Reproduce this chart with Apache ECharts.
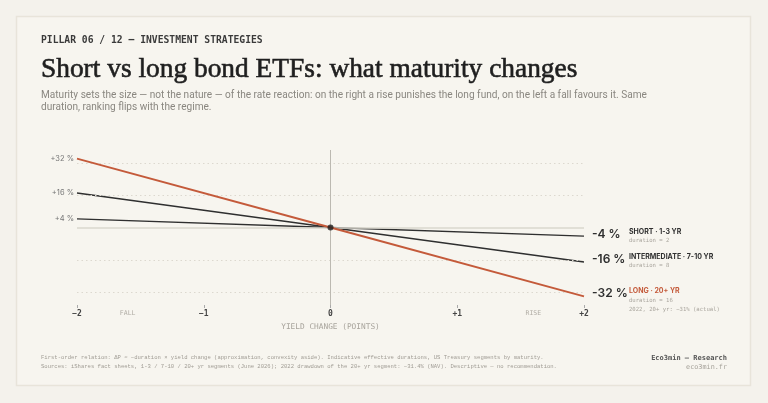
<!DOCTYPE html>
<html><head><meta charset="utf-8">
<script src="https://cdn.jsdelivr.net/npm/echarts@6/dist/echarts.min.js"></script>
<style>html,body{margin:0;padding:0;background:#f4f2ec}#c{width:768px;height:403px}</style>
</head><body><div id="c"></div>
<script>
const xValues = [-2, 0, 2];
const shortVals = [4, 0, -4];
const interVals = [16, 0, -16];
const longVals = [32, 0, -32];
const seriesNames = ['SHORT · 1-3 YR', 'INTERMEDIATE · 7-10 YR', 'LONG · 20+ YR'];
const durations = [2, 8, 16];
const longNote = '2022, 20+ yr: −31% (actual)';
const gridLevels = [-30, -15, 15, 30];
const regimeLabels = [{ name: 'FALL', x: -1.6 }, { name: 'RISE', x: 1.6 }];
const origin = [[0, 0]];

const MONO = '"DejaVu Sans Mono", "Liberation Mono", monospace';
const SANS = 'Inter, Roboto, "Noto Sans", sans-serif';
const DARK = '#2f2f2f';
const ORANGE = '#c45a3a';

const chart = echarts.init(document.getElementById('c'), null, { renderer: 'canvas' });

function fmtLeft(v) { return '+' + v + ' %'; }
function fmtRight(v) { return String(v) + ' %'; }

function makeSeries(idx, vals, color, width, valOffset, nameOffset, extraLine) {
  const data = xValues.map((x, i) => {
    const item = { value: [x, vals[i]] };
    if (i === 0) {
      item.label = { show: true, position: 'left', distance: 3, formatter: fmtLeft(vals[i]),
        color: '#777', fontFamily: SANS, fontSize: 7.5 };
    }
    if (i === xValues.length - 1) {
      item.label = { show: true, position: 'right', distance: 8, offset: valOffset,
        formatter: fmtRight(vals[i]), color: DARK, fontFamily: SANS, fontSize: 12, fontWeight: 600 };
    }
    return item;
  });
  let txt = '{n|' + seriesNames[idx] + '}\n{d|duration = ' + durations[idx] + '}';
  if (extraLine) txt += '\n{d|' + extraLine + '}';
  return {
    type: 'line', name: seriesNames[idx], data: data, z: 3 + idx,
    symbol: 'circle', symbolSize: 0, showSymbol: true,
    lineStyle: { color: color, width: width }, itemStyle: { color: color },
    silent: true, animation: false,
    markPoint: {
      symbol: 'circle', symbolSize: 0, silent: true, animation: false,
      data: [{ coord: [xValues[xValues.length - 1], vals[vals.length - 1]] }],
      label: {
        show: true, position: 'right', distance: 45, offset: nameOffset, align: 'left',
        formatter: txt,
        rich: {
          n: { color: color === ORANGE ? ORANGE : DARK, fontFamily: SANS, fontSize: 7, fontWeight: 'bold', lineHeight: 9 },
          d: { color: '#a9a59d', fontFamily: MONO, fontSize: 5.6, lineHeight: 9 }
        }
      }
    }
  };
}

const option = {
  backgroundColor: '#f4f2ec',
  animation: false,
  grid: { left: 77, right: 184, top: 150, bottom: 98 },
  xAxis: {
    type: 'value', min: -2, max: 2, interval: 1,
    axisLine: { show: false, onZero: false },
    axisTick: { show: true, length: 3, lineStyle: { color: '#aaa' } },
    splitLine: { show: false },
    axisLabel: {
      margin: 5, color: '#444', fontFamily: MONO, fontSize: 8, fontWeight: 'bold',
      formatter: v => v > 0 ? '+' + v : (v < 0 ? '−' + Math.abs(v) : '0')
    },
    name: 'YIELD CHANGE (POINTS)', nameLocation: 'middle', nameGap: 18,
    nameTextStyle: { color: '#a8a49c', fontFamily: MONO, fontSize: 7.8 }
  },
  yAxis: {
    type: 'value', min: -36, max: 36,
    axisLine: { show: false }, axisTick: { show: false }, axisLabel: { show: false },
    splitLine: { show: false }
  },
  graphic: [
    { type: 'rect', shape: { x: 16.5, y: 16.5, width: 734, height: 369 },
      style: { fill: '#f7f5ef', stroke: '#e8e4da', lineWidth: 1.5 }, z: -10 },
    { type: 'text', style: { text: 'PILLAR 06 / 12 — INVESTMENT STRATEGIES', x: 41, y: 40,
      fontFamily: MONO, fontSize: 9.7, fontWeight: 'bold', fill: '#3a3a3a', verticalAlign: 'middle' } },
    { type: 'text', style: { text: 'Short vs long bond ETFs: what maturity changes', x: 41, y: 70,
      fontFamily: '"Liberation Serif", serif', fontSize: 27.4, fontWeight: 'normal', fill: '#1f1f1f',
      stroke: '#1f1f1f', lineWidth: 0.6, verticalAlign: 'middle' } },
    { type: 'text', style: { text: 'Maturity sets the size — not the nature — of the rate reaction: on the right a rise punishes the long fund, on the left a fall favours it. Same', x: 41, y: 95,
      fontFamily: 'Roboto, sans-serif', fontSize: 10.1, fill: '#8a8780', verticalAlign: 'middle' } },
    { type: 'text', style: { text: 'duration, ranking flips with the regime.', x: 41, y: 107.5,
      fontFamily: 'Roboto, sans-serif', fontSize: 10.1, fill: '#8a8780', verticalAlign: 'middle' } },
    { type: 'text', style: { text: 'First-order relation: ΔP ≈ −duration × yield change (approximation, convexity aside). Indicative effective durations, US Treasury segments by maturity.', x: 41, y: 358,
      fontFamily: '"Liberation Mono", monospace', fontSize: 5.55, fill: '#a09c94', verticalAlign: 'middle' } },
    { type: 'text', style: { text: 'Sources: iShares fact sheets, 1-3 / 7-10 / 20+ yr segments (June 2026); 2022 drawdown of the 20+ yr segment: −31.4% (NAV). Descriptive — no recommendation.', x: 41, y: 367,
      fontFamily: '"Liberation Mono", monospace', fontSize: 5.55, fill: '#a09c94', verticalAlign: 'middle' } },
    { type: 'text', style: { text: 'Eco3min — Research', x: 727, y: 358, align: 'right',
      fontFamily: MONO, fontSize: 7, fontWeight: 'bold', fill: '#555', verticalAlign: 'middle' } },
    { type: 'text', style: { text: 'eco3min.fr', x: 727, y: 367, align: 'right',
      fontFamily: MONO, fontSize: 6.8, fill: '#a5a199', verticalAlign: 'middle' } }
  ],
  series: [
    {
      type: 'line', name: 'guides', data: [], z: 1, silent: true, animation: false,
      markLine: {
        symbol: 'none', silent: true, animation: false, label: { show: false },
        data: gridLevels.map(v => ({ yAxis: v, lineStyle: { color: '#dcd8cf', type: [1.5, 3], width: 1 } }))
          .concat([{ yAxis: 0, lineStyle: { color: '#dad7ce', type: 'solid', width: 1.5 } },
                   { xAxis: 0, lineStyle: { color: '#bcb9b1', type: 'solid', width: 1 } }])
      },
      markPoint: {
        symbol: 'circle', symbolSize: 0, silent: true, animation: false,
        data: regimeLabels.map(r => ({ coord: [r.x, -36], name: r.name })),
        label: { show: true, position: 'bottom', distance: 5, formatter: p => p.name,
          color: '#b0aca4', fontFamily: MONO, fontSize: 6.5 }
      }
    },
    makeSeries(0, shortVals, DARK, 1.4, [0, -2], [0, 0], null),
    makeSeries(1, interVals, DARK, 1.4, [0, -2.5], [0, -1], null),
    makeSeries(2, longVals, ORANGE, 2, [0, -3], [0, 4], longNote),
    {
      type: 'scatter', data: origin, symbolSize: 6, z: 10, silent: true,
      itemStyle: { color: '#1e1e1e' }
    }
  ]
};
chart.setOption(option);
</script></body></html>
